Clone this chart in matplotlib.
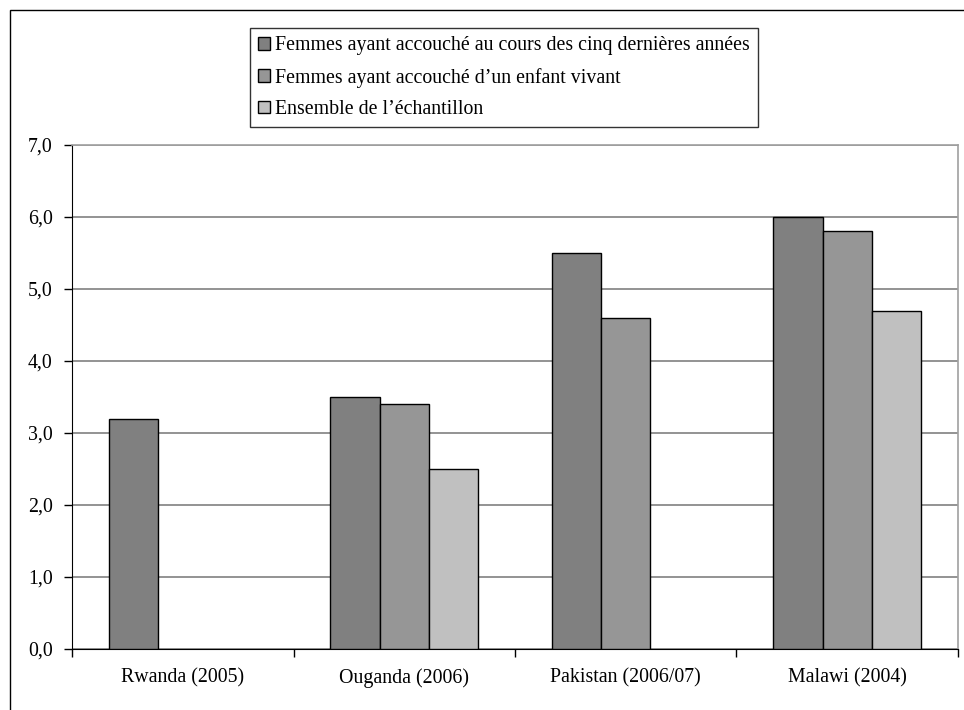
import numpy as np
import matplotlib.pyplot as plt
from matplotlib.patches import Rectangle

plt.rcParams['font.family'] = ['Liberation Serif', 'DejaVu Serif']

countries = ['Rwanda (2005)', 'Ouganda (2006)', 'Pakistan (2006/07)', 'Malawi (2004)']
series_names = [
    'Femmes ayant accouché au cours des cinq dernières années',
    'Femmes ayant accouché d\u2019un enfant vivant',
    'Ensemble de l\u2019échantillon',
]
five_years = [3.2, 3.5, 5.5, 6.0]
live_birth = [np.nan, 3.4, 4.6, 5.8]
whole_sample = [np.nan, 2.5, np.nan, 4.7]
colors = ['#808080', '#969696', '#c0c0c0']

fig = plt.figure(figsize=(9.64, 7.10), dpi=100)
ax = fig.add_axes([72 / 964, 1 - 649 / 710, 886 / 964, 504 / 710])

x = np.arange(len(countries))
width = 1 / 4.5
for i, (vals, name) in enumerate(zip([five_years, live_birth, whole_sample], series_names)):
    ax.bar(x + (i - 1) * width, vals, width, color=colors[i], edgecolor='black',
           linewidth=1.0, label=name, zorder=3)

ax.set_xlim(-0.5, len(countries) - 0.5)
ax.set_ylim(0, 7)
ax.set_yticks(np.arange(0, 7.1, 1))
ax.set_yticklabels([f'{v:.1f}'.replace('.', ',') for v in np.arange(0, 7.1, 1)])
ax.set_xticks(x)
ax.set_xticklabels(countries)
ax.set_xticks(np.arange(-0.5, len(countries), 1), minor=True)
ax.tick_params(axis='x', which='major', length=0, pad=14, labelsize=14.3)
ax.tick_params(axis='x', which='minor', length=6, width=1, direction='out')
ax.tick_params(axis='y', length=6, width=1, direction='out', pad=8, labelsize=14.3)

ax.yaxis.grid(True, color='#808080', linewidth=1.2, zorder=0)
ax.set_axisbelow(True)
for side in ['top', 'right']:
    ax.spines[side].set_color('#a0a0a0')
    ax.spines[side].set_linewidth(1.2)
ax.spines['left'].set_color('black')
ax.spines['bottom'].set_color('black')

leg = fig.legend(loc='upper left', bbox_to_anchor=(250 / 964, 1 - 28 / 710),
                 fontsize=14.3, frameon=True, fancybox=False, shadow=False,
                 handlelength=0.6, handleheight=0.6, handletextpad=0.25,
                 labelspacing=0.62, borderpad=0.42, borderaxespad=0)
leg.get_frame().set_edgecolor('black')
leg.get_frame().set_linewidth(1.0)
for h in leg.legend_handles:
    h.set_linewidth(1.0)

# outer frame around the chart area
fig.patches.append(Rectangle((10 / 964, -0.1), 1.2, 1 - 10 / 710 + 0.1,
                             transform=fig.transFigure, fill=False,
                             edgecolor='black', linewidth=1.0))

fig.savefig('out.png', dpi=100)
